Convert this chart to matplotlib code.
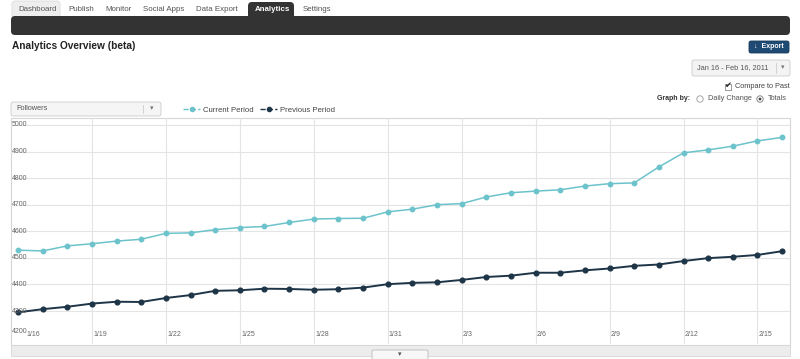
import matplotlib
matplotlib.use("Agg")
import matplotlib.pyplot as plt
from matplotlib.patches import FancyBboxPatch, Rectangle, Circle
from matplotlib.lines import Line2D
import matplotlib.transforms as mtransforms
import pandas as pd

plt.rcParams['font.family'] = ['Liberation Sans', 'DejaVu Sans']

# data (followers per day)
days = pd.date_range('2011-01-16', '2011-02-16')
day_labels = [f"{d.month}/{d.day}" for d in days]
current = [4529, 4526, 4545, 4553, 4563, 4570, 4592, 4594,
           4606, 4614, 4618, 4633, 4646, 4648, 4649, 4673,
           4683, 4700, 4704, 4729, 4745, 4751, 4756, 4770, 4779,
           4782, 4842, 4895, 4906, 4920, 4940, 4953]
previous = [4295, 4307, 4316, 4328, 4335, 4334, 4349, 4360,
            4376, 4378, 4384, 4383, 4380, 4382, 4388, 4401,
            4406, 4408, 4417, 4428, 4433, 4444, 4444, 4453, 4460,
            4470, 4475, 4488, 4499, 4504, 4511, 4525]
y_ticks = [4200, 4300, 4400, 4500, 4600, 4700, 4800, 4900, 5000]
tabs = ["Dashboard", "Publish", "Monitor", "Social Apps", "Data Export", "Analytics", "Settings"]
tab_x = [18, 68, 105, 143, 196, 255, 303]

CUR = '#6cc3cb'
PREV = '#1e3548'
W, H = 800, 359

fig = plt.figure(figsize=(8, 3.59), dpi=100)
fig.patch.set_facecolor('white')

# background axes in pixel coordinates for the page chrome
bg = fig.add_axes([0, 0, 1, 1])
bg.set_xlim(0, W)
bg.set_ylim(H, 0)
bg.axis('off')

# tabs
bg.add_patch(FancyBboxPatch((12, 1), 48, 18, boxstyle="round,pad=0,rounding_size=3",
                            fc='#eeeeee', ec='#dddddd', lw=0.6))
bg.add_patch(FancyBboxPatch((11, 16), 779, 19, boxstyle="round,pad=0,rounding_size=4",
                            fc='#333333', ec='none'))
bg.add_patch(FancyBboxPatch((248, 2), 46, 20, boxstyle="round,pad=0,rounding_size=4",
                            fc='#333333', ec='none'))
for name, x in zip(tabs, tab_x):
    active = name == "Analytics"
    bg.text(x, 9.5, name, fontsize=5.7, va='center', ha='left',
            color='white' if active else '#555555', fontweight='bold' if active else 'normal')

bg.text(12, 46, "Analytics Overview (beta)", fontsize=7.3, fontweight='bold', va='center', color='#222222')

# export button
bg.add_patch(FancyBboxPatch((749, 41), 40, 12, boxstyle="round,pad=0,rounding_size=2",
                            fc='#1f4a73', ec='#163a5c', lw=0.6))
bg.text(769, 47, "↓  Export", fontsize=5, color='white', ha='center', va='center', fontweight='bold')

# date picker
bg.add_patch(FancyBboxPatch((692, 60), 98, 16, boxstyle="round,pad=0,rounding_size=2",
                            fc='#f3f3f3', ec='#cccccc', lw=0.6))
bg.text(697, 68, "Jan 16 - Feb 16, 2011", fontsize=5.3, color='#555555', va='center')
bg.plot([776, 776], [63, 73], color='#cccccc', lw=0.6)
bg.text(783, 68, "▾", fontsize=5, color='#777777', va='center', ha='center')

# compare to past / graph by
bg.add_patch(Rectangle((725, 84), 6, 6, fc='white', ec='#888888', lw=0.6))
bg.text(728, 86.5, "✔", fontsize=6, color='#222222', ha='center', va='center')
bg.text(735, 87, "Compare to Past", fontsize=5.3, color='#444444', va='center')
bg.text(657, 99, "Graph by:", fontsize=5, color='#333333', va='center', fontweight='bold')
bg.add_patch(Circle((700, 99), 3.2, fc='white', ec='#999999', lw=0.6))
bg.text(708, 99, "Daily Change", fontsize=5.3, color='#555555', va='center')
bg.add_patch(Circle((760, 99), 3.2, fc='white', ec='#777777', lw=0.6))
bg.add_patch(Circle((760, 99), 1.4, fc='#444444', ec='none'))
bg.text(768, 99, "Totals", fontsize=5.3, color='#555555', va='center')

# followers dropdown
bg.add_patch(FancyBboxPatch((11, 102), 150, 14, boxstyle="round,pad=0,rounding_size=2",
                            fc='#f5f5f5', ec='#cccccc', lw=0.6))
bg.text(16, 109, "Followers", fontsize=5.3, color='#555555', va='center')
bg.plot([143, 143], [105, 113], color='#cccccc', lw=0.6)
bg.text(152, 109, "▾", fontsize=5, color='#777777', va='center', ha='center')

# chart panel
bg.add_patch(Rectangle((11, 118), 779, 227, fc='white', ec='#d6d6d6', lw=0.8))
bg.add_patch(Rectangle((11, 345), 779, 11, fc='#ececec', ec='#d6d6d6', lw=0.6))
bg.add_patch(FancyBboxPatch((372, 350), 56, 10, boxstyle="round,pad=0,rounding_size=1.5",
                            fc='#f7f7f7', ec='#bbbbbb', lw=0.6))
bg.text(400, 354.5, "▾", fontsize=5, color='#555555', ha='center', va='center')

# plot axes
left, right, top, bottom = 11, 790, 118, 344
ax = fig.add_axes([left / W, (H - bottom) / H, (right - left) / W, (bottom - top) / H])
ax.patch.set_alpha(0)
x = list(range(len(days)))
ax.set_xlim(-0.284, 31.32)
ax.set_ylim(4176, 5026)

for v in y_ticks[1:]:
    ax.axhline(v, color='#e4e4e4', lw=0.8, zorder=0)
for i in range(3, len(days), 3):
    ax.axvline(i, color='#e4e4e4', lw=0.8, zorder=0)

ax.plot(x, current, color=CUR, lw=1.1, marker='o', ms=3.2, mec=CUR, zorder=3)
ax.plot(x, previous, color=PREV, lw=1.4, marker='o', ms=3.4, mec=PREV, zorder=3)

ytrans = mtransforms.blended_transform_factory(ax.transAxes, ax.transData)
for v in y_ticks:
    yy = v + 22 if v == 4200 else v
    ax.text(0.001, yy, str(v), transform=ytrans, fontsize=5, color='#666666', va='center', ha='left')

xtrans = mtransforms.blended_transform_factory(ax.transData, ax.transAxes)
for i in range(0, len(days), 3):
    off = 0.35 if i == 0 else 0.05
    ax.text(i + off, 0.04, day_labels[i], transform=xtrans, fontsize=5, color='#666666',
            va='center', ha='left')

ax.set_xticks([])
ax.set_yticks([])
for s in ax.spines.values():
    s.set_visible(False)

handles = [Line2D([], [], color=CUR, ls='--', lw=1, marker='o', ms=3),
           Line2D([], [], color=PREV, ls='--', lw=1, marker='o', ms=3)]
fig.legend(handles, ["Current Period", "Previous Period"], loc='center left',
           bbox_to_anchor=(176 / W, 1 - 110 / H), ncol=2, frameon=False, fontsize=5.6,
           handlelength=2.2, handletextpad=0.4, columnspacing=0.8, labelcolor='#444444')

fig.savefig("out.png", dpi=100, facecolor='white')
